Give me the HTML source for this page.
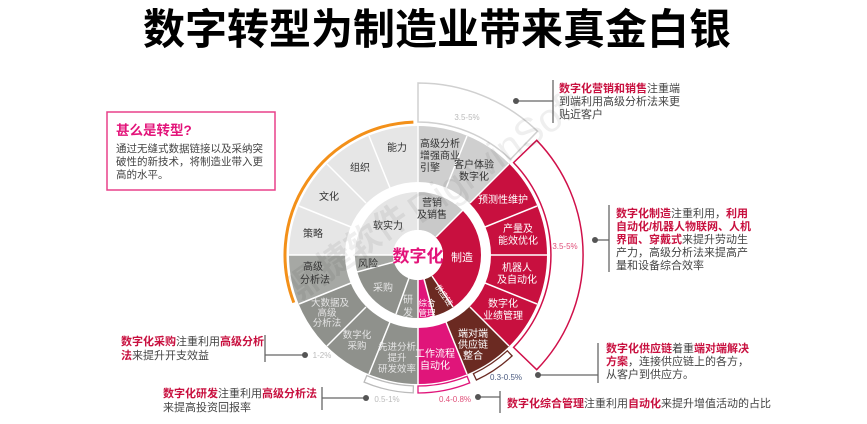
<!DOCTYPE html>
<html><head><meta charset="utf-8"><style>
html,body{margin:0;padding:0;background:#fff;}
svg{display:block;font-family:"Liberation Sans","Noto Sans CJK SC",sans-serif;}
</style></head><body>
<svg width="867" height="424" viewBox="0 0 867 424" xmlns="http://www.w3.org/2000/svg">
<text x="437" y="44" text-anchor="middle" font-size="42" font-weight="bold" fill="#000">数字转型为制造业带来真金白银</text>

<path d="M418,83 A172,172 0 0 1 537.5,131.3 L510.4,159.4 A133,133 0 0 0 418,122 Z" fill="#fff" stroke="#d0d0d0" stroke-width="1.5"/>
<path d="M536.7,140.3 A165,165 0 0 1 536.7,369.7 L513.6,347.4 A133,133 0 0 0 513.6,162.6 Z" fill="#fff" stroke="#d0104a" stroke-width="1.5"/>
<path d="M512.1,355.9 A138,138 0 0 1 476.4,380 L473.4,373.7 A131,131 0 0 0 507.3,350.8 Z" fill="#fff" stroke="#6b2a22" stroke-width="1.3"/>
<path d="M469.7,382.9 A138,138 0 0 1 418,393 L418,386 A131,131 0 0 0 467.1,376.4 Z" fill="#fff" stroke="#e0157a" stroke-width="1.3"/>
<path d="M413.2,392.9 A138,138 0 0 1 364.1,382.1 L366.8,375.6 A131,131 0 0 0 413.4,385.9 Z" fill="#fff" stroke="#bbb" stroke-width="1.3"/>

<g fill="none" stroke-width="56">
<circle cx="418" cy="255" r="101" stroke="#e6e6e6" transform="rotate(180 418 255)" stroke-dasharray="158.7 700"/>
<circle cx="418" cy="255" r="101" stroke="#cfcfcf" transform="rotate(-90 418 255)" stroke-dasharray="79.4 700"/>
<circle cx="418" cy="255" r="101" stroke="#c8103f" transform="rotate(-45 418 255)" stroke-dasharray="158.7 700"/>
<circle cx="418" cy="255" r="101" stroke="#6b2a22" transform="rotate(45 418 255)" stroke-dasharray="39.7 700"/>
<circle cx="418" cy="255" r="101" stroke="#e0157a" transform="rotate(67.5 418 255)" stroke-dasharray="39.7 700"/>
<circle cx="418" cy="255" r="101" stroke="#8f918c" transform="rotate(90 418 255)" stroke-dasharray="119 700"/>
<circle cx="418" cy="255" r="101" stroke="#a6a8a4" transform="rotate(157.5 418 255)" stroke-dasharray="39.7 700"/>
</g>
<g fill="none" stroke-width="38">
<circle cx="418" cy="255" r="44" stroke="#e6e6e6" transform="rotate(180 418 255)" stroke-dasharray="69.1 300"/>
<circle cx="418" cy="255" r="44" stroke="#c9c9c9" transform="rotate(-90 418 255)" stroke-dasharray="34.6 300"/>
<circle cx="418" cy="255" r="44" stroke="#c8103f" transform="rotate(-45 418 255)" stroke-dasharray="77.6 300"/>
<circle cx="418" cy="255" r="44" stroke="#6b2a22" transform="rotate(56 418 255)" stroke-dasharray="14.6 300"/>
<circle cx="418" cy="255" r="44" stroke="#e0157a" transform="rotate(75 418 255)" stroke-dasharray="11.5 300"/>
<circle cx="418" cy="255" r="44" stroke="#8f918c" transform="rotate(90 418 255)" stroke-dasharray="56.8 300"/>
<circle cx="418" cy="255" r="44" stroke="#a6a8a4" transform="rotate(164 418 255)" stroke-dasharray="12.3 300"/>
</g>
<g stroke="#fff" stroke-width="1.5">
<line x1="418" y1="182" x2="418" y2="126"/><line x1="446" y1="188" x2="467" y2="136"/>
<line x1="470" y1="203" x2="509" y2="164"/><line x1="485" y1="227" x2="537" y2="206"/>
<line x1="491" y1="255" x2="547" y2="255"/><line x1="485" y1="283" x2="537" y2="304"/>
<line x1="470" y1="307" x2="509" y2="346"/><line x1="446" y1="322" x2="467" y2="374"/>
<line x1="418" y1="328" x2="418" y2="384"/><line x1="390" y1="322" x2="369" y2="374"/>
<line x1="366" y1="307" x2="327" y2="346"/><line x1="351" y1="283" x2="299" y2="304"/>
<line x1="345" y1="255" x2="289" y2="255"/><line x1="351" y1="227" x2="299" y2="206"/>
<line x1="366" y1="203" x2="327" y2="164"/><line x1="390" y1="188" x2="369" y2="136"/>
<line x1="418" y1="230" x2="418" y2="192"/><line x1="436" y1="237" x2="463" y2="210"/>
<line x1="432" y1="276" x2="453" y2="307"/><line x1="424" y1="279" x2="434" y2="316"/>
<line x1="418" y1="280" x2="418" y2="318"/><line x1="409" y1="278" x2="396" y2="314"/>
<line x1="394" y1="262" x2="357" y2="272"/><line x1="393" y1="255" x2="355" y2="255"/>
</g>
<circle cx="418" cy="255" r="25" fill="#fff"/>
<path d="M293.8,302.6 A133,133 0 0 1 413.4,122.1" fill="none" stroke="#f39019" stroke-width="3"/>

<text x="300" y="300" font-size="34" fill="#000" opacity="0.06" font-weight="bold" transform="rotate(-35 300 300)">鼎捷软件</text>
<text x="420" y="225" font-size="40" fill="#000" opacity="0.06" transform="rotate(-35 420 225)">DigiwinSoft</text>

<g font-size="10" text-anchor="middle" fill="#333">
<text x="420" y="147" text-anchor="start">高级分析</text><text x="420" y="159" text-anchor="start">增强商业</text><text x="420" y="171" text-anchor="start">引擎</text>
<text x="474" y="168">客户体验</text><text x="474" y="180">数字化</text>
<text x="397" y="151">能力</text><text x="360" y="171">组织</text><text x="329" y="200">文化</text><text x="313" y="237">策略</text>
<text x="313" y="270">高级</text><text x="315" y="283">分析法</text>
<text x="432" y="206">营销</text><text x="432" y="218">及销售</text>
<text x="388" y="229">软实力</text><text x="368" y="267">风险</text>
</g>
<g font-size="10" text-anchor="middle" fill="#fff">
<text x="503" y="203">预测性维护</text>
<text x="518" y="232">产量及</text><text x="518" y="244">能效优化</text>
<text x="517" y="271">机器人</text><text x="517" y="283">及自动化</text>
<text x="503" y="307">数字化</text><text x="503" y="319">业绩管理</text>
<text x="473" y="337">端对端</text><text x="473" y="348">供应链</text><text x="473" y="359">整合</text>
<text x="435" y="357">工作流程</text><text x="435" y="369">自动化</text>
<text x="462" y="261" font-size="11">制造</text>
<text x="427" y="306" font-size="8.5">综合</text><text x="427" y="316" font-size="8.5">管理</text>
<text x="444" y="298" font-size="8" transform="rotate(55 444 295)">供应链</text>
</g>
<g font-size="9.5" text-anchor="middle" fill="#e4e4e4">
<text x="330" y="306">大数据及</text><text x="327" y="316">高级</text><text x="327" y="326">分析法</text>
<text x="357" y="338">数字化</text><text x="357" y="349">采购</text>
<text x="397" y="350">先进分析</text><text x="397" y="361">提升</text><text x="397" y="372">研发效率</text>
<text x="383" y="291" font-size="10">采购</text>
<text x="408" y="303" font-size="10">研</text><text x="408" y="316" font-size="10">发</text>
</g>
<text x="418" y="262" text-anchor="middle" font-size="17" font-weight="bold" fill="#e3147a">数字化</text>

<g font-size="8" text-anchor="middle">
<text x="467" y="120" fill="#bbb">3.5-5%</text>
<text x="565" y="249" fill="#e0507a">3.5-5%</text>
<text x="322" y="358" fill="#bbb">1-2%</text>
<text x="387" y="402" fill="#bbb">0.5-1%</text>
<text x="455" y="402" fill="#e0507a">0.4-0.8%</text>
<text x="506" y="380" fill="#4a5a80">0.3-0.5%</text>
</g>

<g stroke="#666" stroke-width="1.3" fill="none">
<line x1="516" y1="101" x2="553" y2="101"/><line x1="553" y1="80" x2="553" y2="123"/>
<line x1="595" y1="240" x2="609" y2="240"/><line x1="609" y1="205" x2="609" y2="272"/>
<line x1="538" y1="375" x2="598" y2="375"/><line x1="598" y1="343" x2="598" y2="383"/>
<line x1="478" y1="397" x2="500" y2="397"/><line x1="500" y1="391" x2="500" y2="413"/>
<line x1="265" y1="355" x2="305" y2="355"/><line x1="265" y1="335" x2="265" y2="362"/>
<line x1="322" y1="398" x2="366" y2="398"/><line x1="322" y1="387" x2="322" y2="410"/>
</g>
<g fill="#555">
<circle cx="516" cy="101" r="3"/><circle cx="595" cy="240" r="3"/><circle cx="538" cy="375" r="3"/>
<circle cx="478" cy="397" r="3"/><circle cx="305" cy="355" r="3"/><circle cx="366" cy="398" r="3"/>
</g>

<g font-size="11" fill="#444">
<text x="559" y="92"><tspan fill="#c8103f" font-weight="bold">数字化营销和销售</tspan>注重端</text>
<text x="559" y="105">到端利用高级分析法来更</text>
<text x="559" y="118">贴近客户</text>
<text x="616" y="217"><tspan fill="#c8103f" font-weight="bold">数字化制造</tspan>注重利用，<tspan fill="#c8103f" font-weight="bold">利用</tspan></text>
<text x="616" y="230" fill="#c8103f" font-weight="bold">自动化/机器人物联网、人机</text>
<text x="616" y="243"><tspan fill="#c8103f" font-weight="bold">界面、穿戴式</tspan>来提升劳动生</text>
<text x="616" y="256">产力，高级分析法来提高产</text>
<text x="616" y="269">量和设备综合效率</text>
<text x="606" y="352"><tspan fill="#c8103f" font-weight="bold">数字化供应链</tspan>着重<tspan fill="#c8103f" font-weight="bold">端对端解决</tspan></text>
<text x="606" y="365"><tspan fill="#c8103f" font-weight="bold">方案</tspan>，连接供应链上的各方，</text>
<text x="606" y="378">从客户到供应方。</text>
<text x="507" y="407"><tspan fill="#c8103f" font-weight="bold">数字化综合管理</tspan>注重利用<tspan fill="#c8103f" font-weight="bold">自动化</tspan>来提升增值活动的占比</text>
<text x="121" y="345"><tspan fill="#c8103f" font-weight="bold">数字化采购</tspan>注重利用<tspan fill="#c8103f" font-weight="bold">高级分析</tspan></text>
<text x="121" y="359"><tspan fill="#c8103f" font-weight="bold">法</tspan>来提升开支效益</text>
<text x="163" y="397"><tspan fill="#c8103f" font-weight="bold">数字化研发</tspan>注重利用<tspan fill="#c8103f" font-weight="bold">高级分析法</tspan></text>
<text x="163" y="411">来提高投资回报率</text>
</g>

<rect x="107" y="112" width="168" height="78" fill="#fff" stroke="#e8408a" stroke-width="1.5"/>
<text x="116" y="135" font-size="13.5" font-weight="bold" fill="#e3147a">甚么是转型?</text>
<g font-size="10.5" fill="#444">
<text x="116" y="152">通过无缝式数据链接以及采纳突</text>
<text x="116" y="165">破性的新技术，将制造业带入更</text>
<text x="116" y="178">高的水平。</text>
</g>
</svg>
</body></html>
